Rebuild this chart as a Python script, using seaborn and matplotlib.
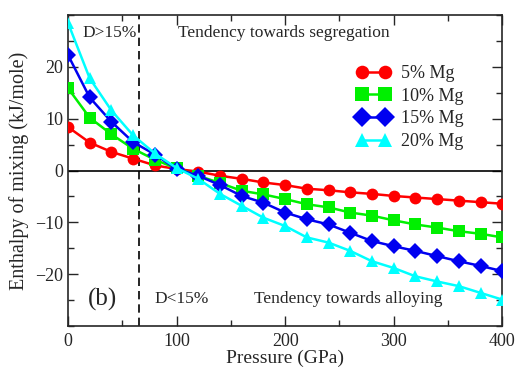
import numpy as np
import pandas as pd
import seaborn as sns
from matplotlib import pyplot as plt
from matplotlib.ticker import MultipleLocator

pressure = list(range(0, 401, 20))
mg5 = [8.4, 5.4, 3.6, 2.3, 1.0, 0.3, -0.2, -1.0, -1.6, -2.3, -2.8, -3.5, -3.8,
       -4.2, -4.5, -4.9, -5.2, -5.5, -5.8, -6.1, -6.4]
mg10 = [15.9, 10.2, 7.0, 4.2, 2.1, 0.4, -1.0, -2.4, -3.9, -4.6, -5.5, -6.5, -7.1,
        -8.1, -8.7, -9.6, -10.4, -11.0, -11.7, -12.2, -12.9]
mg15 = [22.3, 14.1, 9.4, 5.5, 3.1, 0.3, -1.0, -2.8, -4.9, -6.2, -8.1, -9.4, -10.4,
        -12.0, -13.6, -14.6, -15.5, -16.5, -17.5, -18.4, -19.4]
mg20 = [28.5, 17.8, 11.6, 6.8, 3.3, 0.5, -1.6, -4.5, -6.8, -9.1, -10.7, -12.9, -13.9,
        -15.5, -17.5, -18.8, -20.4, -21.4, -22.3, -23.6, -24.9]
labels = ['5% Mg', '10% Mg', '15% Mg', '20% Mg']
colors = ['#ff0000', '#00f000', '#0000f0', '#00ffff']
markers = ['o', 's', 'D', '^']

frames = []
for lab, vals in zip(labels, [mg5, mg10, mg15, mg20]):
    frames.append(pd.DataFrame({'P': pressure, 'H': vals, 'series': lab}))
df = pd.concat(frames, ignore_index=True)

sns.set_style('ticks')
plt.rcParams['font.family'] = ['Liberation Serif', 'DejaVu Serif']

fig = plt.figure(figsize=(5.17, 3.68), dpi=100)
ax = fig.add_axes([0.1315, 0.114, 0.84, 0.845])

# zero line and the D=15% divider
ax.axhline(0, color='black', lw=1.2, zorder=1)
ax.axvline(65, color='black', lw=1.2, ls=(0, (5, 3)), zorder=1)

sns.lineplot(data=df, x='P', y='H', hue='series', style='series',
             palette=colors, markers=markers, dashes=False,
             markersize=8.5, markeredgewidth=0, lw=1.8, ax=ax, zorder=3)

ax.set_xlim(0, 400)
ax.set_ylim(-30, 30)
ax.set_xticks([0, 100, 200, 300, 400])
ax.set_yticks([-20, -10, 0, 10, 20])
ax.xaxis.set_minor_locator(MultipleLocator(50))
ax.yaxis.set_minor_locator(MultipleLocator(5))
ax.tick_params(which='both', direction='in', top=True, right=True, labelsize=13)
ax.tick_params(axis='x', pad=5)
ax.tick_params(which='major', length=7, width=1)
ax.tick_params(which='minor', length=4, width=1)
for s in ax.spines.values():
    s.set_linewidth(1.2)

ax.set_xlabel('Pressure (GPa)', fontsize=14, labelpad=0)
ax.set_ylabel('Enthalpy of mixing (kJ/mole)', fontsize=14.5, labelpad=4)

ax.text(13, 26.6, 'D>15%', fontsize=12.5, va='center')
ax.text(101, 26.6, 'Tendency towards segregation', fontsize=12.5, va='center')
ax.text(80, -24.7, 'D<15%', fontsize=12.5, va='center')
ax.text(171, -24.7, 'Tendency towards alloying', fontsize=12.5, va='center')
ax.text(18, -24.9, '(b)', fontsize=18, va='center')

handles, labs = ax.get_legend_handles_labels()
ax.legend(handles, labs, loc='upper left', bbox_to_anchor=(0.664, 0.84),
          frameon=False, fontsize=13, numpoints=2, markerscale=1.15,
          handlelength=1.9, handletextpad=0.55, labelspacing=0.32,
          borderpad=0, borderaxespad=0)

fig.savefig('out.png', dpi=100)
